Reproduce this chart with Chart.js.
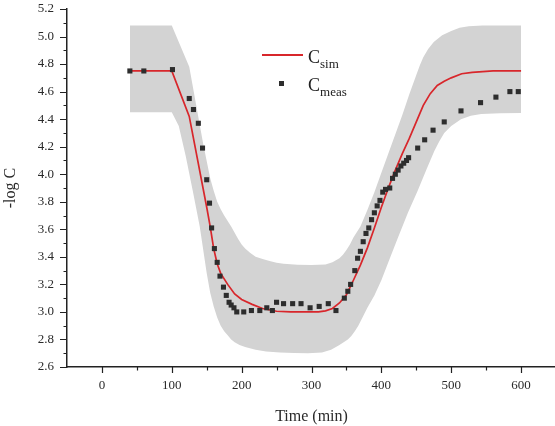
<!DOCTYPE html>
<html>
<head>
<meta charset="utf-8">
<script src="https://cdn.jsdelivr.net/npm/chart.js@4.4.1/dist/chart.umd.min.js"></script>
<style>
    body { margin: 0; background: #fff; overflow: hidden; }
    #wrap { position: relative; width: 555px; height: 426px; overflow: hidden; }
    #legend { position: absolute; left: 0; top: 0; font-family: 'Liberation Serif', serif; color: #222; }
    .lg-swatch { position: absolute; }
    .lg-text { position: absolute; font-size: 18px; line-height: 20px; white-space: nowrap; }
    .lg-text span { position: relative; font-size: 13px; top: 5px; }
</style>
</head>
<body>
<div id="wrap">
    <!-- a little wider than the window: the scale keeps 5px spare on the right -->
    <canvas id="chart" width="560" height="426"></canvas>
    <div id="legend"></div>
</div>
<script>
// measured concentrations
const measTime = [40, 60, 101, 125, 131, 138, 144, 150, 154, 157, 161, 165, 169, 174, 178, 182, 185, 189, 193, 203,
    214, 226, 236, 244, 250, 260, 273, 285, 298, 311, 324, 335, 347, 352, 356, 362, 366, 370, 374, 378,
    382, 386, 390, 394, 398, 402, 406, 412, 416, 420, 424, 428, 432, 436, 439, 452, 462, 474, 490, 514,
    542, 564, 584, 596];
const measValue = [4.75, 4.75, 4.76, 4.55, 4.47, 4.37, 4.19, 3.96, 3.79, 3.61, 3.46, 3.36, 3.26, 3.18, 3.12, 3.07, 3.05, 3.03, 3.00, 3.00,
    3.01, 3.01, 3.03, 3.01, 3.07, 3.06, 3.06, 3.06, 3.03, 3.04, 3.06, 3.01, 3.10, 3.15, 3.20, 3.30, 3.39, 3.44, 3.51, 3.57,
    3.61, 3.67, 3.72, 3.77, 3.81, 3.87, 3.89, 3.90, 3.97, 4.00, 4.03, 4.06, 4.08, 4.10, 4.12, 4.19, 4.25, 4.32, 4.38, 4.46,
    4.52, 4.56, 4.60, 4.60];

// simulated curve
const simTime = [40, 100, 125, 150, 155, 160, 165, 170, 180, 190, 200, 215, 230, 250, 270, 290, 310, 320, 330, 340,
    350, 360, 370, 380, 390, 400, 410, 420, 430, 440, 450, 460, 470, 480, 490, 500, 515, 530, 545, 560, 600];
const simValue = [4.75, 4.75, 4.42, 3.76, 3.62, 3.46, 3.35, 3.28, 3.20, 3.13, 3.09, 3.055, 3.025, 3.005, 3.0, 3.0, 3.0, 3.008, 3.025, 3.065,
    3.125, 3.23, 3.34, 3.465, 3.61, 3.76, 3.90, 4.03, 4.15, 4.26, 4.38, 4.50, 4.585, 4.645, 4.675, 4.70, 4.73, 4.74, 4.745, 4.75, 4.75];

// uncertainty band
const upperTime = [40, 100, 125, 135, 145, 155, 160, 165, 170, 175, 180, 185, 190, 195, 200, 205, 212, 220, 230, 240,
    250, 260, 280, 300, 320, 330, 340, 345, 350, 355, 360, 365, 370, 380, 390, 400, 410, 420, 430, 440,
    450, 455, 460, 467, 475, 487, 500, 512, 525, 545, 600];
const upperValue = [5.08, 5.08, 4.78, 4.50, 4.22, 3.97, 3.88, 3.80, 3.745, 3.70, 3.66, 3.62, 3.575, 3.53, 3.49, 3.46, 3.43, 3.40, 3.385, 3.37,
    3.358, 3.35, 3.343, 3.34, 3.345, 3.36, 3.39, 3.415, 3.45, 3.49, 3.54, 3.58, 3.62, 3.74, 3.87, 4.01, 4.15, 4.29, 4.43, 4.58,
    4.72, 4.79, 4.85, 4.91, 4.96, 5.01, 5.04, 5.063, 5.075, 5.08, 5.08];
const lowerTime = [40, 100, 110, 120, 130, 140, 150, 155, 160, 165, 170, 175, 180, 185, 190, 197, 205, 220, 235, 255,
    275, 295, 315, 328, 340, 352, 357, 362, 367, 371, 380, 390, 400, 410, 423, 438, 452, 465, 476, 483,
    490, 500, 514, 528, 543, 570, 600];
const lowerValue = [4.45, 4.45, 4.35, 4.13, 3.88, 3.62, 3.28, 3.14, 3.04, 2.96, 2.90, 2.86, 2.83, 2.80, 2.78, 2.76, 2.745, 2.725, 2.713, 2.706,
    2.702, 2.70, 2.705, 2.725, 2.76, 2.80, 2.825, 2.86, 2.90, 2.94, 3.03, 3.12, 3.23, 3.36, 3.53, 3.72, 3.88, 4.04, 4.17, 4.24,
    4.30, 4.35, 4.40, 4.425, 4.437, 4.443, 4.445];

const axisColor = '#222';
const textColor = '#2a2a2a';
const bandColor = '#d3d3d3';
const simColor = '#d8262b';
const measColor = '#2d2d2d';
const serif = "'Liberation Serif', 'DejaVu Serif', serif";

const pts = (xs, ys) => xs.map((x, i) => ({ x: x, y: ys[i] }));
const isMajorX = v => Math.round(v) % 100 === 0;
const isMajorY = v => Math.round(v * 10) % 2 === 0;

// tick marks drawn here: long for labelled values, short in between
const axisTicks = {
    id: 'axisTicks',
    afterDraw(chart) {
        const ctx = chart.ctx;
        const xs = chart.scales.x;
        const ys = chart.scales.y;
        ctx.save();
        ctx.strokeStyle = axisColor;
        ctx.lineWidth = 1.2;
        ctx.beginPath();
        xs.ticks.forEach(t => {
            if (t.value <= xs.min || t.value >= xs.max) return;
            const len = isMajorX(t.value) ? 6 : 3.5;
            const px = Math.round(xs.getPixelForValue(t.value)) + 0.5;
            ctx.moveTo(px, xs.top);
            ctx.lineTo(px, xs.top + len);
        });
        ys.ticks.forEach(t => {
            const len = isMajorY(t.value) ? 7 : 3.5;
            const py = Math.round(ys.getPixelForValue(t.value)) + 0.5;
            ctx.moveTo(ys.right, py);
            ctx.lineTo(ys.right - len, py);
        });
        ctx.stroke();
        ctx.restore();
    }
};

const chart = new Chart(document.getElementById('chart'), {
    type: 'line',
    data: {
        datasets: [
            {
                label: 'meas',
                legendText: 'meas',
                data: pts(measTime, measValue),
                showLine: false,
                pointStyle: 'rect',
                pointRadius: 3.6,
                pointBorderWidth: 0,
                pointBackgroundColor: measColor,
                borderColor: measColor
            },
            {
                label: 'sim',
                legendText: 'sim',
                data: pts(simTime, simValue),
                borderColor: simColor,
                borderWidth: 1.7,
                tension: 0,
                pointRadius: 0,
                fill: false
            },
            {
                label: 'upper',
                data: pts(upperTime, upperValue),
                borderWidth: 0,
                borderColor: 'transparent',
                backgroundColor: bandColor,
                tension: 0,
                pointRadius: 0,
                fill: '+1'
            },
            {
                label: 'lower',
                data: pts(lowerTime, lowerValue),
                borderWidth: 0,
                borderColor: 'transparent',
                tension: 0,
                pointRadius: 0,
                fill: false
            }
        ]
    },
    options: {
        responsive: false,
        animation: false,
        devicePixelRatio: 1,
        layout: { padding: { top: 9, right: 0, left: 0, bottom: 0 } },
        plugins: {
            legend: { display: false },
            tooltip: { enabled: false }
        },
        scales: {
            x: {
                type: 'linear',
                min: -50,
                max: 650,
                afterFit: s => { s.height = 59; },
                border: { display: true, color: axisColor, width: 1.5 },
                grid: {
                    drawOnChartArea: false,
                    drawTicks: true,
                    tickLength: 11,
                    tickColor: 'transparent'
                },
                ticks: {
                    stepSize: 50,
                    includeBounds: false,
                    autoSkip: false,
                    maxRotation: 0,
                    padding: 0,
                    color: textColor,
                    font: { family: serif, size: 13 },
                    callback: v => (isMajorX(v) ? String(v) : '')
                },
                title: {
                    display: true,
                    text: 'Time (min)',
                    color: textColor,
                    font: { family: serif, size: 16 },
                    padding: { top: 0, bottom: 0 }
                }
            },
            y: {
                min: 2.6,
                max: 5.2,
                afterFit: s => { s.width = 67; },
                border: { display: true, color: axisColor, width: 1.5 },
                grid: {
                    drawOnChartArea: false,
                    drawTicks: true,
                    tickLength: 13,
                    tickColor: 'transparent'
                },
                ticks: {
                    stepSize: 0.1,
                    autoSkip: false,
                    padding: 0,
                    color: textColor,
                    font: { family: serif, size: 13 },
                    callback: v => (isMajorY(v) ? v.toFixed(1) : '')
                },
                title: {
                    display: true,
                    text: '-log C',
                    color: textColor,
                    font: { family: serif, size: 16 },
                    padding: { top: 1, bottom: 0 }
                }
            }
        }
    },
    plugins: [axisTicks]
});

// HTML legend so the subscripts stay real text
function buildLegend(chart) {
    const box = document.getElementById('legend');
    box.innerHTML = '';
    const rows = [
        { ds: chart.data.datasets[1], y: 55 },
        { ds: chart.data.datasets[0], y: 83 }
    ];
    rows.forEach(r => {
        const sw = document.createElement('div');
        sw.className = 'lg-swatch';
        if (r.ds.showLine === false) {
            sw.style.left = '279px';
            sw.style.top = (r.y - 2.5) + 'px';
            sw.style.width = '5px';
            sw.style.height = '5px';
            sw.style.background = r.ds.pointBackgroundColor;
        } else {
            sw.style.left = '262px';
            sw.style.top = (r.y - 1) + 'px';
            sw.style.width = '41px';
            sw.style.height = '2px';
            sw.style.background = r.ds.borderColor;
        }
        box.appendChild(sw);

        const txt = document.createElement('div');
        txt.className = 'lg-text';
        txt.style.left = '308px';
        txt.style.top = (r.y - 8) + 'px';
        txt.innerHTML = 'C<span>' + r.ds.legendText + '</span>';
        box.appendChild(txt);
    });
}
buildLegend(chart);
</script>
</body>
</html>
